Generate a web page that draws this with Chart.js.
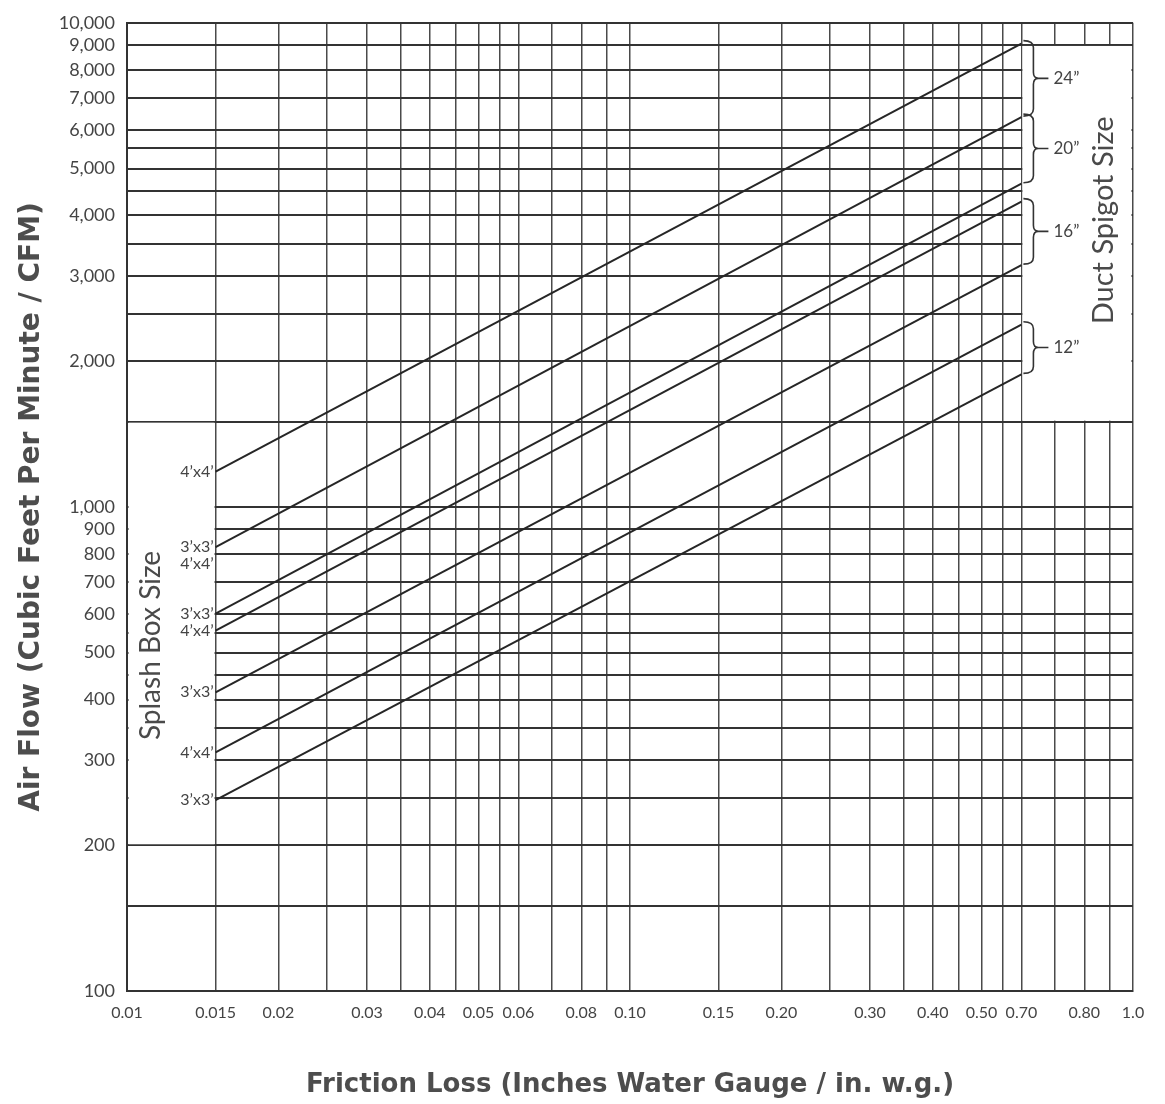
<!DOCTYPE html>
<html>
<head>
<meta charset="utf-8">
<script src="https://cdn.jsdelivr.net/npm/chart.js@4.4.1/dist/chart.umd.min.js"></script>
<style>
  html, body { margin: 0; padding: 0; background: #fff; }
  canvas { display: block; }
</style>
</head>
<body>
<canvas id="chart-friction" width="1165" height="1104"></canvas>
<script>
// friction loss (in. w.g.) where every line starts / ends
const lossPoints = [0.015, 0.6]

// air flow (CFM) read at both ends of each line, top line first
const startCfm = [1183, 826, 602, 555, 414, 311, 248]
const endCfm = [9057, 6385, 4651, 4272, 3158, 2379, 1878]

// splash box label at the left end: [text, line index]
const splashLabels = [
  ['4’x4’', 0], ['3’x3’', 1], ['4’x4’', 1], ['3’x3’', 2],
  ['4’x4’', 3], ['3’x3’', 4], ['4’x4’', 5], ['3’x3’', 6],
]
// duct spigot brackets: [text, upper line, lower line]
const spigotSizes = [['24”', 0, 1], ['20”', 1, 2], ['16”', 3, 4], ['12”', 5, 6]]

// grid and tick labels
const xGrid = [0.01, 0.015, 0.02, 0.025, 0.03, 0.035, 0.04, 0.045, 0.05, 0.055, 0.06, 0.07, 0.08, 0.09,
  0.1, 0.15, 0.2, 0.25, 0.3, 0.35, 0.4, 0.45, 0.5, 0.55, 0.6, 0.7, 0.8, 0.9, 1.0]
const xTickValues = [0.01, 0.015, 0.02, 0.03, 0.04, 0.05, 0.06, 0.08, 0.1, 0.15, 0.2, 0.3, 0.4, 0.5, 0.6, 0.8, 1.0]
const xTickLabels = ['0.01', '0.015', '0.02', '0.03', '0.04', '0.05', '0.06', '0.08', '0.10', '0.15', '0.20',
  '0.30', '0.40', '0.50', '0.70', '0.80', '1.0']
const yGrid = [100, 150, 200, 250, 300, 350, 400, 450, 500, 550, 600, 700, 800, 900,
  1000, 1500, 2000, 2500, 3000, 3500, 4000, 4500, 5000, 5500, 6000, 7000, 8000, 9000, 10000]
const yTickValues = [100, 200, 300, 400, 500, 600, 700, 800, 900, 1000, 2000, 3000, 4000, 5000, 6000, 7000, 8000, 9000, 10000]
const yTickLabels = ['100', '200', '300', '400', '500', '600', '700', '800', '900', '1,000', '2,000', '3,000',
  '4,000', '5,000', '6,000', '7,000', '8,000', '9,000', '10,000']

const ink = '#444'
const lineInk = '#262626'
const titleFont = '"DejaVu Sans", "Open Sans", sans-serif'

function labelFor(values, labels, v) {
  const i = values.findIndex(t => Math.abs(t - v) / t < 1e-6)
  return i < 0 ? '' : labels[i]
}

Chart.defaults.font.family = 'Lato, "Open Sans", sans-serif'
Chart.defaults.color = ink

// white label boxes cut out of the grid, then the brackets and captions
const annotations = {
  id: 'annotations',
  beforeDatasetsDraw(chart) {
    const {ctx, scales: {x, y}} = chart
    ctx.save()
    ctx.fillStyle = '#fff'
    // splash box panel
    let l = x.getPixelForValue(0.01) + 1.5, r = x.getPixelForValue(0.015) - 1
    let t = y.getPixelForValue(1500) + 1, b = y.getPixelForValue(200) - 1
    ctx.fillRect(l, t, r - l, b - t)
    // duct spigot panel
    l = x.getPixelForValue(0.6) + 1; r = x.getPixelForValue(1.0) - 1.5
    t = y.getPixelForValue(9000) + 1; b = y.getPixelForValue(1500) - 1
    ctx.fillRect(l, t, r - l, b - t)
    ctx.restore()
  },
  afterDatasetsDraw(chart) {
    const {ctx, scales: {x, y}} = chart
    ctx.save()
    ctx.fillStyle = ink
    ctx.strokeStyle = '#333'
    ctx.lineWidth = 1.6

    // splash box labels at the start of each line
    const x0 = x.getPixelForValue(lossPoints[0])
    ctx.font = '16px Lato'
    ctx.textAlign = 'right'
    ctx.textBaseline = 'middle'
    const used = {}
    splashLabels.forEach(([text, i]) => {
      let py = y.getPixelForValue(startCfm[i])
      if (used[i]) py += 17
      used[i] = true
      ctx.fillText(text, x0 - 2, py)
    })

    // brackets on the right
    const x1 = x.getPixelForValue(lossPoints[1]) + 2
    ctx.textAlign = 'left'
    ctx.font = '17px Lato'
    spigotSizes.forEach(([text, a, b]) => {
      const top = y.getPixelForValue(endCfm[a]) - 3
      const bot = y.getPixelForValue(endCfm[b]) - 1
      const mid = (top + bot) / 2
      const xs = x1 + 10
      ctx.beginPath()
      ctx.moveTo(x1, top)
      ctx.quadraticCurveTo(xs, top, xs, top + 7)
      ctx.lineTo(xs, mid - 6)
      ctx.quadraticCurveTo(xs, mid, xs + 5, mid)
      ctx.quadraticCurveTo(xs, mid, xs, mid + 6)
      ctx.lineTo(xs, bot - 7)
      ctx.quadraticCurveTo(xs, bot, x1, bot)
      ctx.moveTo(xs + 5, mid)
      ctx.lineTo(xs + 15, mid)
      ctx.stroke()
      ctx.fillText(text, xs + 20, mid)
    })

    // rotated captions
    ctx.textAlign = 'center'
    ctx.font = '28px Lato'
    ctx.fillStyle = '#4a4a4a'
    let cx = x.getPixelForValue(0.01) + 24
    let cy = (y.getPixelForValue(1500) + y.getPixelForValue(200)) / 2 + 12
    ctx.save()
    ctx.translate(cx, cy)
    ctx.rotate(-Math.PI / 2)
    ctx.fillText('Splash Box Size', 0, 0)
    ctx.restore()

    ctx.font = '29px Lato'
    cx = x.getPixelForValue(1.0) - 29
    cy = (y.getPixelForValue(9000) + y.getPixelForValue(1500)) / 2 - 13
    ctx.save()
    ctx.translate(cx, cy)
    ctx.rotate(-Math.PI / 2)
    ctx.fillText('Duct Spigot Size', 0, 0)
    ctx.restore()

    ctx.restore()
  }
}

const datasets = startCfm.map((s, i) => ({
  data: [{x: lossPoints[0], y: s}, {x: lossPoints[1], y: endCfm[i]}],
  borderColor: lineInk,
  borderWidth: 2,
  pointRadius: 0,
  fill: false,
}))

new Chart(document.getElementById('chart-friction'), {
  type: 'line',
  data: {datasets},
  plugins: [annotations],
  options: {
    responsive: false,
    animation: false,
    events: [],
    layout: {padding: {left: 0, right: 32, top: 17, bottom: 0}},
    plugins: {
      legend: {display: false},
      tooltip: {enabled: false},
    },
    scales: {
      x: {
        type: 'logarithmic',
        min: 0.01,
        max: 1,
        afterBuildTicks: s => { s.ticks = xGrid.map(v => ({value: v})) },
        afterFit: s => { s.height = 113 },
        grid: {color: '#4a4a4a', lineWidth: 1.5, drawTicks: false},
        border: {color: '#333', width: 2},
        ticks: {
          autoSkip: false,
          maxRotation: 0,
          padding: 12,
          font: {size: 16},
          color: ink,
          callback: v => labelFor(xTickValues, xTickLabels, v),
        },
        title: {
          display: true,
          text: 'Friction Loss (Inches Water Gauge / in. w.g.)',
          font: {size: 26, weight: 'bold', family: titleFont},
          color: '#4d4d4d',
          padding: {top: 0, bottom: 3},
        },
      },
      y: {
        type: 'logarithmic',
        min: 100,
        max: 10000,
        afterBuildTicks: s => { s.ticks = yGrid.map(v => ({value: v})) },
        afterFit: s => { s.width = 127 },
        grid: {color: '#333', lineWidth: 2, drawTicks: false},
        border: {color: '#333', width: 2},
        ticks: {
          autoSkip: false,
          padding: 12,
          font: {size: 18},
          color: ink,
          callback: v => labelFor(yTickValues, yTickLabels, v),
        },
        title: {
          display: true,
          text: 'Air Flow (Cubic Feet Per Minute / CFM)',
          font: {size: 28, weight: 'bold', family: titleFont},
          color: '#4d4d4d',
          padding: {top: 15, bottom: 0},
        },
      },
    },
  },
})
</script>
</body>
</html>
